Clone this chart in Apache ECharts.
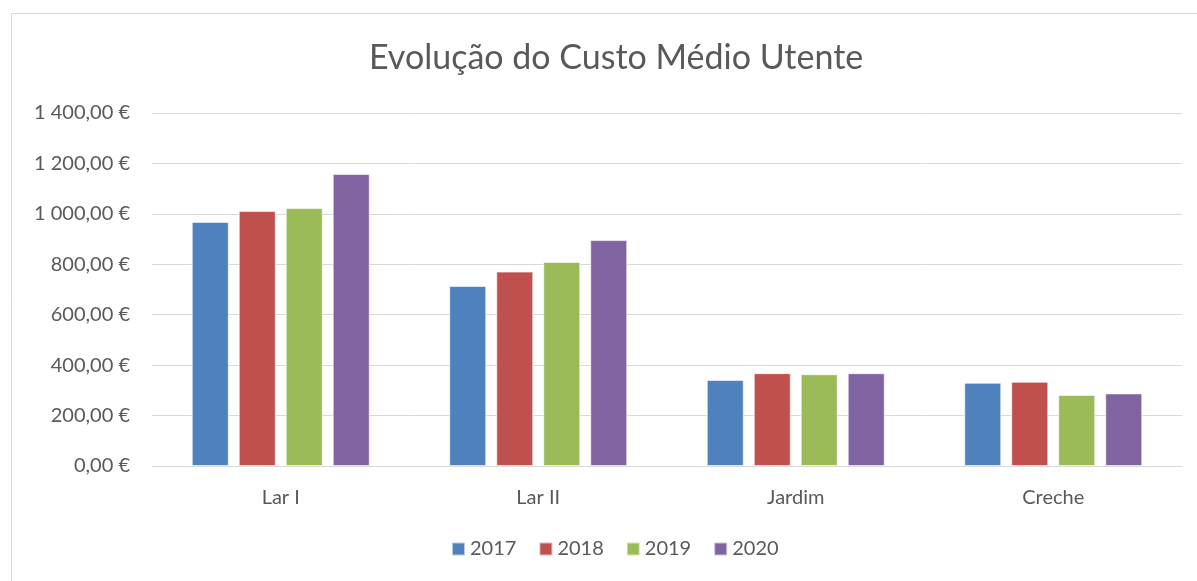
<!DOCTYPE html>
<html>
<head>
<meta charset="utf-8">
<script src="https://cdn.jsdelivr.net/npm/echarts@6/dist/echarts.min.js"></script>
<style>
  html, body { margin: 0; padding: 0; background: #fff; }
  #chart { width: 1197px; height: 581px; }
</style>
</head>
<body>
<div id="chart"></div>
<script>
const categories = ['Lar I', 'Lar II', 'Jardim', 'Creche'];
const years = ['2017', '2018', '2019', '2020'];
const values2017 = [968, 714, 341, 330];
const values2018 = [1011, 771, 368, 334];
const values2019 = [1023, 809, 364, 282];
const values2020 = [1158, 896, 368, 288];
const colors = ['#4f81bd', '#c0504d', '#9bbb59', '#8064a2'];

const font = 'Lato, "Open Sans", sans-serif';

const formatEuro = (v) => {
  const s = Math.round(v).toString().replace(/\B(?=(\d{3})+(?!\d))/g, ' ');
  return s + ',00 €';
};

const chartInstance = echarts.init(document.getElementById('chart'));

const seriesData = [values2017, values2018, values2019, values2020];

const option = {
  animation: false,
  textStyle: { fontFamily: font },
  title: {
    text: 'Evolução do Custo Médio Utente',
    left: 364,
    top: 36,
    textStyle: { fontFamily: font, fontSize: 34, fontWeight: 'normal', color: '#595959' }
  },
  graphic: [
    {
      type: 'rect',
      shape: { x: 11.5, y: 13.5, width: 1200, height: 600 },
      style: { fill: null, stroke: '#d9d9d9', lineWidth: 1 }
    }
  ],
  legend: {
    data: years,
    bottom: 17,
    left: 446,
    icon: 'rect',
    itemWidth: 13,
    itemHeight: 13,
    itemGap: 22,
    textStyle: { fontFamily: font, fontSize: 20, color: '#595959' }
  },
  grid: { left: 152, right: 15, top: 113, bottom: 115 },
  xAxis: {
    type: 'category',
    data: categories,
    axisLine: { lineStyle: { color: '#d9d9d9', width: 1 } },
    axisTick: { show: false },
    axisLabel: { fontFamily: font, fontSize: 20, color: '#595959', margin: 22 }
  },
  yAxis: {
    type: 'value',
    min: 0,
    max: 1400,
    interval: 200,
    axisLine: { show: false },
    axisTick: { show: false },
    splitLine: { lineStyle: { color: '#d9d9d9', width: 1 } },
    axisLabel: { fontFamily: font, fontSize: 20, color: '#595959', margin: 22, formatter: formatEuro }
  },
  series: years.map((y, i) => ({
    name: y,
    type: 'bar',
    data: seriesData[i],
    barWidth: 37,
    barGap: '27%',
    itemStyle: { color: colors[i], borderColor: 'rgba(255,255,255,0.6)', borderWidth: 1 }
  }))
};

chartInstance.setOption(option);
</script>
</body>
</html>
